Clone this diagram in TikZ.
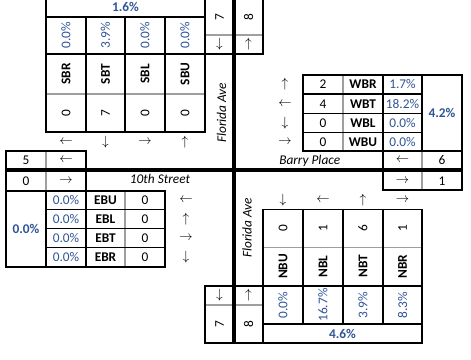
\documentclass[tikz,border=0pt]{standalone}
\usepackage{fontspec}
\setmainfont{Carlito}
\usepackage{xcolor}
\usepackage{tikz}
\usetikzlibrary{positioning}
\definecolor{pctblue}{RGB}{47,84,150}

\begin{document}
\begin{tikzpicture}[x=0.75pt,y=-0.75pt,
  txt/.style={inner sep=0pt,font=\fontsize{10}{12}\selectfont},
  lab/.style={txt,font=\fontsize{10}{12}\selectfont\bfseries},
  pct/.style={txt,text=pctblue},
  tot/.style={lab,text=pctblue},
  street/.style={txt,font=\fontsize{10}{12}\selectfont\itshape},
  arw/.style={inner sep=0pt,font=\fontsize{10}{12}\selectfont},
  turned/.style={rotate=90},
  grid/.style={draw=black,line width=1.1pt},
  soft/.style={draw=gray!75,line width=1.1pt},
  curb/.style={draw=black,line width=3pt}
]
\useasboundingbox (0,0) rectangle (471,360);
\clip (0,0) rectangle (471,360);

% southbound
\draw[soft] (46,94) -- (205,94);
\draw[grid] (46,-3) rectangle (205,132);
\draw[grid] (46,17) -- (205,17);
\draw[grid] (46,54) -- (205,54);
\draw[grid] (86,17) -- (86,132);
\draw[grid] (125,17) -- (125,132);
\draw[grid] (165,17) -- (165,132);
\node[tot] (sbtot) at (125.5,7) {1.6\%};
\node[pct,turned] (sbrp) at (66,35.5) {0.0\%};
\node[pct,turned] (sbtp) at (105.5,35.5) {3.9\%};
\node[pct,turned] (sblp) at (145,35.5) {0.0\%};
\node[pct,turned] (sbup) at (185,35.5) {0.0\%};
\node[lab,turned] (sbr) at (66,74) {SBR};
\node[lab,turned] (sbt) at (105.5,74) {SBT};
\node[lab,turned] (sbl) at (145,74) {SBL};
\node[lab,turned] (sbu) at (185,74) {SBU};
\node[txt,turned] (sbrn) at (66,113) {0};
\node[txt,turned] (sbtn) at (105.5,113) {7};
\node[txt,turned] (sbln) at (145,113) {0};
\node[txt,turned] (sbun) at (185,113) {0};
\node[arw] (sbra) at (66,142) {$\leftarrow$};
\node[arw] (sbta) at (105.5,142) {$\downarrow$};
\node[arw] (sbla) at (145,142) {$\rightarrow$};
\node[arw] (sbua) at (185,142) {$\uparrow$};

\draw[soft] (205,35) -- (263,35);
\draw[grid] (205,-3) rectangle (234,54);
\draw[grid] (234,-3) rectangle (263,54);
\node[txt,turned] (nin) at (219.5,17) {7};
\node[arw] (nina) at (219.5,44.5) {$\downarrow$};
\node[txt,turned] (nout) at (248.5,17) {8};
\node[arw] (nouta) at (248.5,44.5) {$\uparrow$};
\node[street,turned] (flan) at (221.5,113) {Florida Ave};

% eastbound
\draw[soft] (46,151) -- (46,191);
\draw[grid] (6,151) rectangle (86,191);
\node[txt] (win) at (26,160) {5};
\node[arw] (wina) at (66,160) {$\leftarrow$};
\node[txt] (wout) at (26,181) {0};
\node[arw] (wouta) at (66,181) {$\rightarrow$};
\node[street] (tenth) at (160,179) {10th Street};

\draw[soft] (125,191) -- (125,267);
\draw[grid] (6,191) rectangle (165,267);
\draw[grid] (46,191) -- (46,267);
\draw[grid] (86,191) -- (86,267);
\draw[grid] (46,209.5) -- (165,209.5);
\draw[grid] (46,228.5) -- (165,228.5);
\draw[grid] (46,247.5) -- (165,247.5);
\node[tot] (ebtot) at (26,229) {0.0\%};
\node[pct] (ebup) at (66,200) {0.0\%};
\node[pct] (eblp) at (66,219) {0.0\%};
\node[pct] (ebtp) at (66,238) {0.0\%};
\node[pct] (ebrp) at (66,257) {0.0\%};
\node[lab] (ebu) at (105.5,200) {EBU};
\node[lab] (ebl) at (105.5,219) {EBL};
\node[lab] (ebt) at (105.5,238) {EBT};
\node[lab] (ebr) at (105.5,257) {EBR};
\node[txt] (ebun) at (145,200) {0};
\node[txt] (ebln) at (145,219) {0};
\node[txt] (ebtn) at (145,238) {0};
\node[txt] (ebrn) at (145,257) {0};
\node[arw] (ebua) at (186,200) {$\leftarrow$};
\node[arw] (ebla) at (186,219) {$\uparrow$};
\node[arw] (ebta) at (186,238) {$\rightarrow$};
\node[arw] (ebra) at (186,257) {$\downarrow$};

% westbound
\draw[soft] (343,75) -- (343,151);
\draw[grid] (303,75) rectangle (462,151);
\draw[grid] (383,75) -- (383,151);
\draw[grid] (422,75) -- (422,151);
\draw[grid] (303,94) -- (422,94);
\draw[grid] (303,113.5) -- (422,113.5);
\draw[grid] (303,132.5) -- (422,132.5);
\node[txt] (wbrn) at (323,84.5) {2};
\node[txt] (wbtn) at (323,104) {4};
\node[txt] (wbln) at (323,123) {0};
\node[txt] (wbun) at (323,142) {0};
\node[lab] (wbr) at (363,84.5) {WBR};
\node[lab] (wbt) at (363,104) {WBT};
\node[lab] (wbl) at (363,123) {WBL};
\node[lab] (wbu) at (363,142) {WBU};
\node[pct] (wbrp) at (402.5,84.5) {1.7\%};
\node[pct] (wbtp) at (402.5,104) {18.2\%};
\node[pct] (wblp) at (402.5,123) {0.0\%};
\node[pct] (wbup) at (402.5,142) {0.0\%};
\node[tot] (wbtot) at (442,113) {4.2\%};
\node[arw] (wbra) at (285,84.5) {$\uparrow$};
\node[arw] (wbta) at (285,104) {$\leftarrow$};
\node[arw] (wbla) at (285,123) {$\downarrow$};
\node[arw] (wbua) at (285,142) {$\rightarrow$};
\node[street,anchor=west] (barry) at (279,160.5) {Barry Place};

\draw[soft] (422,151) -- (422,190);
\draw[grid] (383,151) rectangle (462,190);
\node[arw] (ein) at (402.5,160) {$\leftarrow$};
\node[txt] (einn) at (442,160) {6};
\node[arw] (eout) at (402.5,181) {$\rightarrow$};
\node[txt] (eoutn) at (442,181) {1};

% northbound
\draw[soft] (263,247.5) -- (422,247.5);
\draw[grid] (263,209.5) rectangle (422,343);
\draw[grid] (263,286) -- (422,286);
\draw[grid] (263,324) -- (422,324);
\draw[grid] (303,209.5) -- (303,324);
\draw[grid] (343,209.5) -- (343,324);
\draw[grid] (383,209.5) -- (383,324);
\node[txt,turned] (nbun) at (283,228.5) {0};
\node[txt,turned] (nbln) at (323,228.5) {1};
\node[txt,turned] (nbtn) at (363,228.5) {6};
\node[txt,turned] (nbrn) at (402.5,228.5) {1};
\node[lab,turned] (nbu) at (283,266.5) {NBU};
\node[lab,turned] (nbl) at (323,266.5) {NBL};
\node[lab,turned] (nbt) at (363,266.5) {NBT};
\node[lab,turned] (nbr) at (402.5,266.5) {NBR};
\node[pct,turned] (nbup) at (283,305) {0.0\%};
\node[pct,turned] (nblp) at (323,305) {16.7\%};
\node[pct,turned] (nbtp) at (363,305) {3.9\%};
\node[pct,turned] (nbrp) at (402.5,305) {8.3\%};
\node[tot] (nbtot) at (342.5,333.5) {4.6\%};
\node[arw] (nbua) at (283,200) {$\downarrow$};
\node[arw] (nbla) at (323,200) {$\leftarrow$};
\node[arw] (nbta) at (363,200) {$\uparrow$};
\node[arw] (nbra) at (402.5,200) {$\rightarrow$};
\node[street,turned] (flas) at (247,228) {Florida Ave};

\draw[soft] (205,305) -- (263,305);
\draw[grid] (205,286) rectangle (234,343);
\draw[grid] (234,286) rectangle (263,343);
\node[arw] (sin) at (219.5,295.5) {$\downarrow$};
\node[txt,turned] (sinn) at (219.5,324) {7};
\node[arw] (sout) at (248.5,295.5) {$\uparrow$};
\node[txt,turned] (soutn) at (248.5,324) {8};

% curbs
\draw[curb] (6,170.3) -- (462,170.3);
\draw[curb] (234,-3) -- (234,343);

\end{tikzpicture}
\end{document}
